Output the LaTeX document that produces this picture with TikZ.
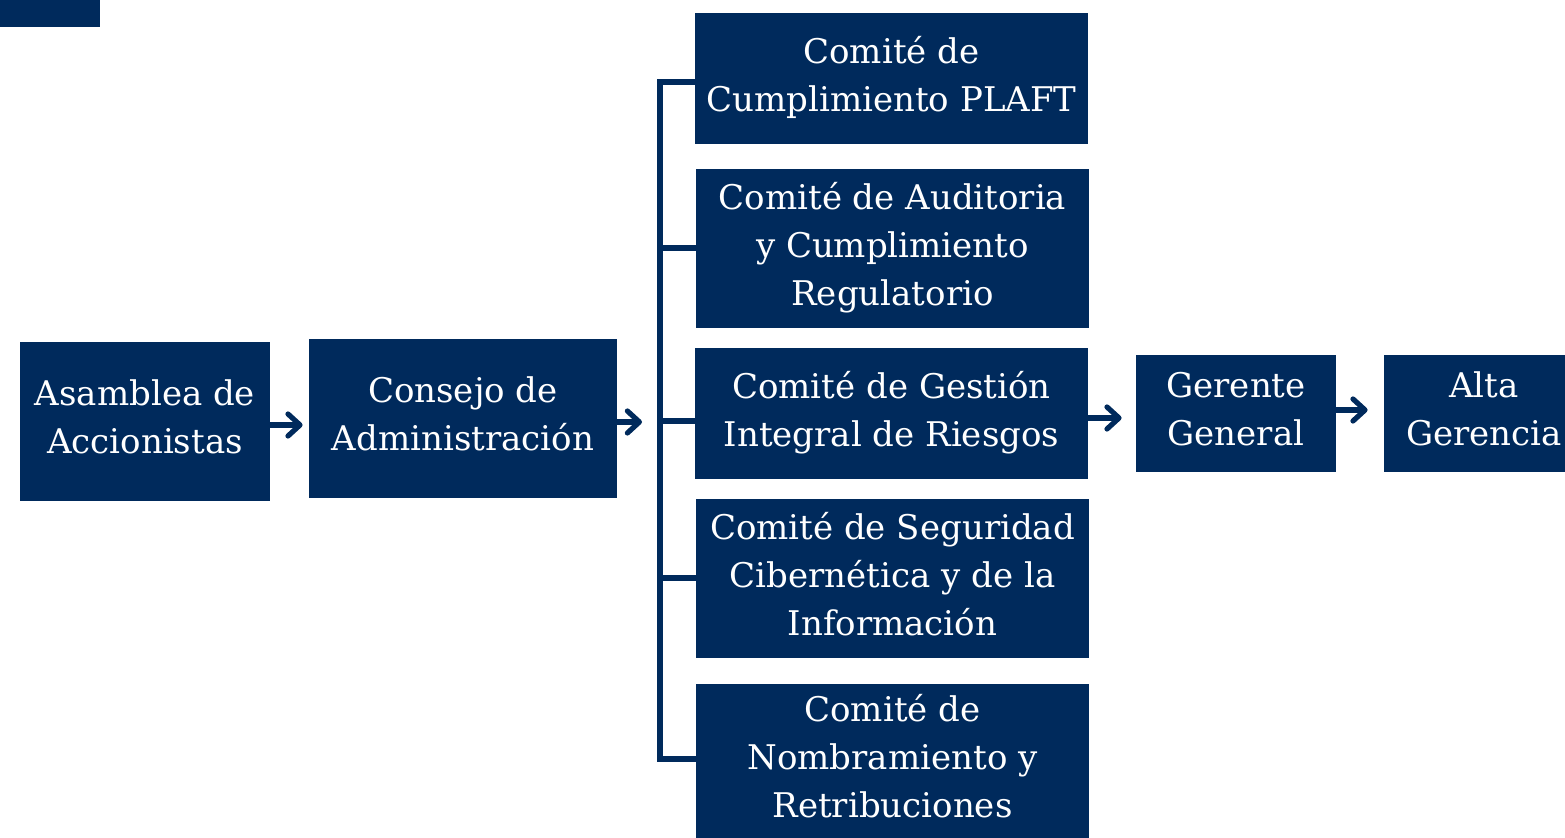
\documentclass[tikz,border=0pt]{standalone}
\usepackage{fontspec}
\setmainfont{DejaVu Serif}
\usetikzlibrary{arrows.meta,calc}
\definecolor{navy}{HTML}{002A5C}
\begin{document}
\begin{tikzpicture}[x=0.5pt,y=-0.5pt,
  box/.style={fill=navy,text=white,align=center,inner sep=0pt,text depth=5pt,
    font=\fontsize{17}{24}\selectfont},
  link/.style={draw=navy,line width=3pt},
  arr/.style={draw=navy,line width=2.6pt,-{Straight Barb[round,length=6pt,width=11pt,line width=2.6pt]}}]
\useasboundingbox (0,0) rectangle (1565,838);
\fill[navy] (0,0) rectangle (100,27);
\node[box,minimum width=125pt,minimum height=79.5pt] (A) at (145,421.5) {Asamblea de\\Accionistas};
\node[box,minimum width=154pt,minimum height=79.5pt] (C) at (463,418.5) {Consejo de\\Administración};
\node[box,minimum width=196.5pt,minimum height=65.5pt] (P1) at (891.5,78.5) {Comité de\\Cumplimiento PLAFT};
\node[box,minimum width=196.5pt,minimum height=79.5pt] (P2) at (892.5,248.5) {Comité de Auditoria\\y Cumplimiento\\Regulatorio};
\node[box,minimum width=196.5pt,minimum height=65.5pt] (P3) at (891.5,413.5) {Comité de Gestión\\Integral de Riesgos};
\node[box,minimum width=196.5pt,minimum height=79.5pt] (P4) at (892.5,578.5) {Comité de Seguridad\\Cibernética y de la\\Información};
\node[box,minimum width=196.5pt,minimum height=77pt] (P5) at (892.5,761) {Comité de\\Nombramiento y\\Retribuciones};
\node[box,minimum width=100pt,minimum height=58.5pt] (G) at (1236,413.5) {Gerente\\General};
\node[box,minimum width=100pt,minimum height=58.5pt] (H) at (1484,413.5) {Alta\\Gerencia};
% spine
\coordinate (b1) at (660,82);
\coordinate (b2) at (660,248);
\coordinate (b3) at (660,421);
\coordinate (b4) at (660,578);
\coordinate (b5) at (660,759);
\draw[link,line cap=rect] (b1 -| P1.west) -- (b1) -- (b5) -- (b5 -| P5.west);
\draw[link] (b2) -- (b2 -| P2.west);
\draw[link] (b3) -- (b3 -| P3.west);
\draw[link] (b4) -- (b4 -| P4.west);
% arrows
\coordinate (a1) at (270,425);
\draw[arr,shorten >=3pt] (a1) -- (a1 -| C.west);
\coordinate (a2) at (617,422);
\draw[arr,shorten >=9pt] (a2) -- (a2 -| b1);
\coordinate (a3) at (1088,418);
\draw[arr,shorten >=7pt] (a3) -- (a3 -| G.west);
\coordinate (a4) at (1336,410);
\draw[arr,shorten >=8pt] (a4) -- (a4 -| H.west);
\end{tikzpicture}
\end{document}
